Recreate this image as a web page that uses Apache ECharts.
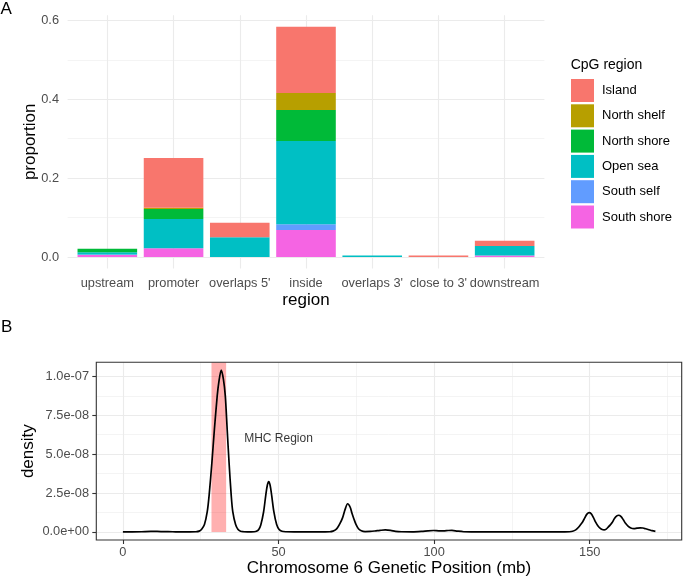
<!DOCTYPE html>
<html><head><meta charset="utf-8">
<script src="https://cdn.jsdelivr.net/npm/echarts@6/dist/echarts.min.js"></script>
<style>html,body{margin:0;padding:0;background:#fff}#c{width:683px;height:581px}</style>
</head><body><div id="c"></div>
<script>
// ---------- Panel A data ----------
const regions = ['upstream', 'promoter', "overlaps 5'", 'inside', "overlaps 3'", "close to 3'", 'downstream'];
const regionPos = [1, 2, 3, 4, 5, 6, 7];
const cpgNames = ['Island', 'North shelf', 'North shore', 'Open sea', 'South self', 'South shore'];
const cpgColors = ['#F8766D', '#B79F00', '#00BA38', '#00BFC4', '#619CFF', '#F564E3'];
const island     = [0.000, 0.126, 0.037, 0.168, 0.000, 0.004, 0.0134];
const northShelf = [0.000, 0.003, 0.000, 0.043, 0.000, 0.000, 0.000];
const northShore = [0.009, 0.0255, 0.000, 0.079, 0.000, 0.000, 0.000];
const openSea    = [0.006, 0.0745, 0.050, 0.211, 0.004, 0.000, 0.024];
const southSelf  = [0.001, 0.000, 0.000, 0.0144, 0.000, 0.000, 0.000];
const southShore = [0.005, 0.022, 0.000, 0.0686, 0.000, 0.000, 0.004];
const propTicks = [0, 0.2, 0.4, 0.6];
const propTickLabels = ['0.0', '0.2', '0.4', '0.6'];
const propMinor = [0.1, 0.3, 0.5];

// ---------- Panel B data ----------
// density values in units of 1e-8
const posMb = [0, 3, 6, 9, 11, 13, 16, 19, 21.5, 23.5, 24.5, 25.3, 26.2, 27.1, 27.7, 28.6, 29.4, 30.3, 30.8, 31.6, 32.3, 32.9, 33.5, 34.1, 34.8, 35.3, 36.2, 37.0, 37.8, 38.8, 40.0, 41.2, 42.2, 42.9, 43.6, 44.3, 45.2, 45.9, 46.4, 46.85, 47.3, 47.8, 48.5, 49.4, 50.2, 51.1, 52.5, 55, 58, 62, 65, 66.5, 67.5, 68.3, 69.0, 69.8, 70.6, 71.4, 72.2, 73.0, 73.6, 74.2, 74.9, 75.7, 76.6, 77.8, 79.5, 81.0, 82.6, 84.3, 86.0, 87.6, 89.5, 93.0, 96.0, 98.0, 99.8, 101.5, 103.0, 104.5, 105.7, 107.5, 109.5, 113, 120, 128, 136, 142, 143.5, 144.5, 145.5, 146.4, 147.1, 147.7, 148.4, 149.1, 149.8, 150.5, 151.2, 151.9, 152.6, 153.4, 154.0, 154.6, 155.3, 156.0, 156.6, 157.2, 158.0, 158.7, 159.3, 160.0, 160.8, 161.5, 162.3, 163.2, 164.2, 165.2, 166.2, 167.1, 168.0, 169.0, 170.0, 171.1];
const density = [0.00, 0.00, 0.01, 0.03, 0.03, 0.02, 0.01, 0.00, 0.00, 0.01, 0.05, 0.17, 0.47, 1.3, 2.35, 4.48, 6.6, 8.74, 9.6, 10.4, 9.8, 8.74, 6.6, 4.48, 2.35, 1.3, 0.47, 0.15, 0.04, 0.01, 0.00, 0.00, 0.01, 0.04, 0.14, 0.45, 1.28, 2.35, 3.0, 3.24, 3.0, 2.35, 1.3, 0.47, 0.15, 0.04, 0.01, 0.0, 0.0, 0.0, 0.0, 0.01, 0.05, 0.13, 0.28, 0.56, 0.92, 1.45, 1.81, 1.6, 1.2, 0.85, 0.48, 0.2, 0.07, 0.02, 0.03, 0.06, 0.1, 0.13, 0.1, 0.04, 0.01, 0.0, 0.03, 0.07, 0.09, 0.07, 0.07, 0.09, 0.1, 0.05, 0.01, 0.0, 0.0, 0.0, 0.0, 0.0, 0.01, 0.04, 0.13, 0.3, 0.48, 0.64, 0.9, 1.14, 1.235, 1.16, 0.92, 0.63, 0.4, 0.22, 0.15, 0.13, 0.18, 0.32, 0.45, 0.6, 0.88, 1.03, 1.07, 1.0, 0.78, 0.55, 0.37, 0.25, 0.21, 0.24, 0.26, 0.25, 0.2, 0.14, 0.08, 0.03];
const posTicks = [0, 50, 100, 150];
const posMinor = [25, 75, 125, 175];
const densTicks = [0, 2.5, 5, 7.5, 10];
const densTickLabels = ['0.0e+00', '2.5e-08', '5.0e-08', '7.5e-08', '1.0e-07'];
const densMinor = [1.25, 3.75, 6.25, 8.75];
const mhcStart = 28.46, mhcEnd = 33.17;
const mhcLabel = [[50, 6]];

const FONT = '"Liberation Sans", Arial, Helvetica, sans-serif';
const GRID = '#EBEBEB';
const chart = echarts.init(document.getElementById('c'), null, {renderer: 'canvas'});

function gridLines(xMajor, xMinor, yMajor, yMinor) {
  const d = [];
  yMinor.forEach(v => d.push({yAxis: v, lineStyle: {color: GRID, width: 0.55, type: 'solid'}}));
  xMinor.forEach(v => d.push({xAxis: v, lineStyle: {color: GRID, width: 0.55, type: 'solid'}}));
  yMajor.forEach(v => d.push({yAxis: v, lineStyle: {color: GRID, width: 1.1, type: 'solid'}}));
  xMajor.forEach(v => d.push({xAxis: v, lineStyle: {color: GRID, width: 1.1, type: 'solid'}}));
  return {silent: true, z: 1, symbol: 'none', label: {show: false}, emphasis: {disabled: true}, animation: false, data: d};
}

const barStack = [
  ['South shore', southShore, cpgColors[5]],
  ['South self', southSelf, cpgColors[4]],
  ['Open sea', openSea, cpgColors[3]],
  ['North shore', northShore, cpgColors[2]],
  ['North shelf', northShelf, cpgColors[1]],
  ['Island', island, cpgColors[0]]
];
const barSeries = barStack.map(s => ({
  type: 'bar', name: s[0], stack: 'cpg', xAxisIndex: 0, yAxisIndex: 0,
  data: s[1], barWidth: '90%', itemStyle: {color: s[2]}, z: 2,
  emphasis: {disabled: true}
}));

const UNIT = 476.8 / 7.2;
const yA = {min: -0.0292, max: 0.6132};

const option = {
  animation: false,
  textStyle: {fontFamily: FONT},
  grid: [
    {left: 67.6 + 0.1 * UNIT, top: 15.2, width: 7 * UNIT, height: 253.3, show: false},
    {left: 96.3, top: 362.3, width: 585.4, height: 177.7, show: true, borderColor: '#333333', borderWidth: 1.1, backgroundColor: 'transparent', z: 10},
    {left: 67.6, top: 15.2, width: 476.8, height: 253.3, show: false}
  ],
  xAxis: [
    {type: 'category', gridIndex: 0, data: regions, boundaryGap: true,
     axisLine: {show: false, onZero: false}, axisTick: {show: false}, splitLine: {show: false},
     axisLabel: {interval: 0, color: '#4D4D4D', fontSize: 12.8, margin: 8, fontFamily: FONT, hideOverlap: false},
     name: 'region', nameLocation: 'middle', nameGap: 23, nameMoveOverlap: false,
     nameTextStyle: {fontSize: 17, color: '#000', fontFamily: FONT}},
    {type: 'value', gridIndex: 1, min: -8.55, max: 179.55,
     axisLine: {show: false, onZero: false}, splitLine: {show: false},
     axisTick: {show: true, customValues: posTicks, length: 4, lineStyle: {color: '#333333', width: 1.1}},
     axisLabel: {customValues: posTicks, color: '#4D4D4D', fontSize: 12.8, margin: 6, fontFamily: FONT},
     name: 'Chromosome 6 Genetic Position (mb)', nameLocation: 'middle', nameGap: 19.5, nameMoveOverlap: false,
     nameTextStyle: {fontSize: 17, color: '#000', fontFamily: FONT}},
    {type: 'value', gridIndex: 2, min: 0.4, max: 7.6, show: true,
     axisLine: {show: false, onZero: false}, axisTick: {show: false}, axisLabel: {show: false}, splitLine: {show: false}}
  ],
  yAxis: [
    {type: 'value', gridIndex: 0, min: yA.min, max: yA.max,
     axisLine: {show: false, onZero: false}, axisTick: {show: false}, splitLine: {show: false}, axisLabel: {show: false}},
    {type: 'value', gridIndex: 1, min: -0.52, max: 10.9,
     axisLine: {show: false, onZero: false}, splitLine: {show: false},
     axisTick: {show: true, customValues: densTicks, length: 4, lineStyle: {color: '#333333', width: 1.1}},
     axisLabel: {customValues: densTicks, formatter: v => densTickLabels[densTicks.findIndex(t => Math.abs(t - v) < 1e-9)], color: '#4D4D4D', fontSize: 12.8, margin: 7.3, fontFamily: FONT},
     name: 'density', nameLocation: 'middle', nameGap: 59.5, nameRotate: 90, nameMoveOverlap: false,
     nameTextStyle: {fontSize: 17, color: '#000', fontFamily: FONT}},
    {type: 'value', gridIndex: 2, min: yA.min, max: yA.max,
     axisLine: {show: false, onZero: false}, axisTick: {show: false}, splitLine: {show: false},
     axisLabel: {customValues: propTicks, formatter: v => propTickLabels[propTicks.findIndex(t => Math.abs(t - v) < 1e-9)], color: '#4D4D4D', fontSize: 12.8, margin: 8.6, fontFamily: FONT},
     name: 'proportion', nameLocation: 'middle', nameGap: 29, nameRotate: 90, nameMoveOverlap: false,
     nameTextStyle: {fontSize: 17, color: '#000', fontFamily: FONT}}
  ],
  legend: {
    data: cpgNames, orient: 'vertical', left: 571, top: 79, itemWidth: 23, itemHeight: 23, itemGap: 2.3,
    icon: 'rect', selectedMode: false, padding: 0,
    textStyle: {fontSize: 13, color: '#000', fontFamily: FONT, padding: [0, 0, 0, 3]}
  },
  graphic: [
    {type: 'text', left: 570.7, top: 58, style: {text: 'CpG region', fill: '#000', font: '14px ' + FONT}},
    {type: 'text', x: 0.5, y: 9, style: {text: 'A', font: '17px ' + FONT, fill: '#000', verticalAlign: 'middle', align: 'left'}},
    {type: 'text', x: 1, y: 327.5, style: {text: 'B', font: '17px ' + FONT, fill: '#000', verticalAlign: 'middle', align: 'left'}}
  ],
  series: [
    {type: 'line', name: 'gridA', xAxisIndex: 2, yAxisIndex: 2, data: [], z: 1, silent: true,
     markLine: gridLines(regionPos, [], propTicks, propMinor)}
  ].concat(barSeries, [
    {type: 'line', xAxisIndex: 1, yAxisIndex: 1, data: posMb.map((x, i) => [x, density[i]]),
     showSymbol: false, smooth: 0.3, lineStyle: {color: '#000', width: 1.7}, z: 3,
     emphasis: {disabled: true},
     markLine: gridLines(posTicks, posMinor, densTicks, densMinor),
     markArea: {silent: true, z: 2, itemStyle: {color: 'rgba(255,0,0,0.31)'},
       data: [[{xAxis: mhcStart, yAxis: 0}, {xAxis: mhcEnd, yAxis: 10.9}]]}},
    {type: 'scatter', xAxisIndex: 1, yAxisIndex: 1, data: mhcLabel, symbolSize: 1,
     itemStyle: {color: 'rgba(0,0,0,0)'}, z: 4, emphasis: {disabled: true},
     label: {show: true, position: 'inside', formatter: 'MHC Region', fontSize: 12, color: '#000', fontFamily: FONT}}
  ])
};
chart.setOption(option);
</script></body></html>
